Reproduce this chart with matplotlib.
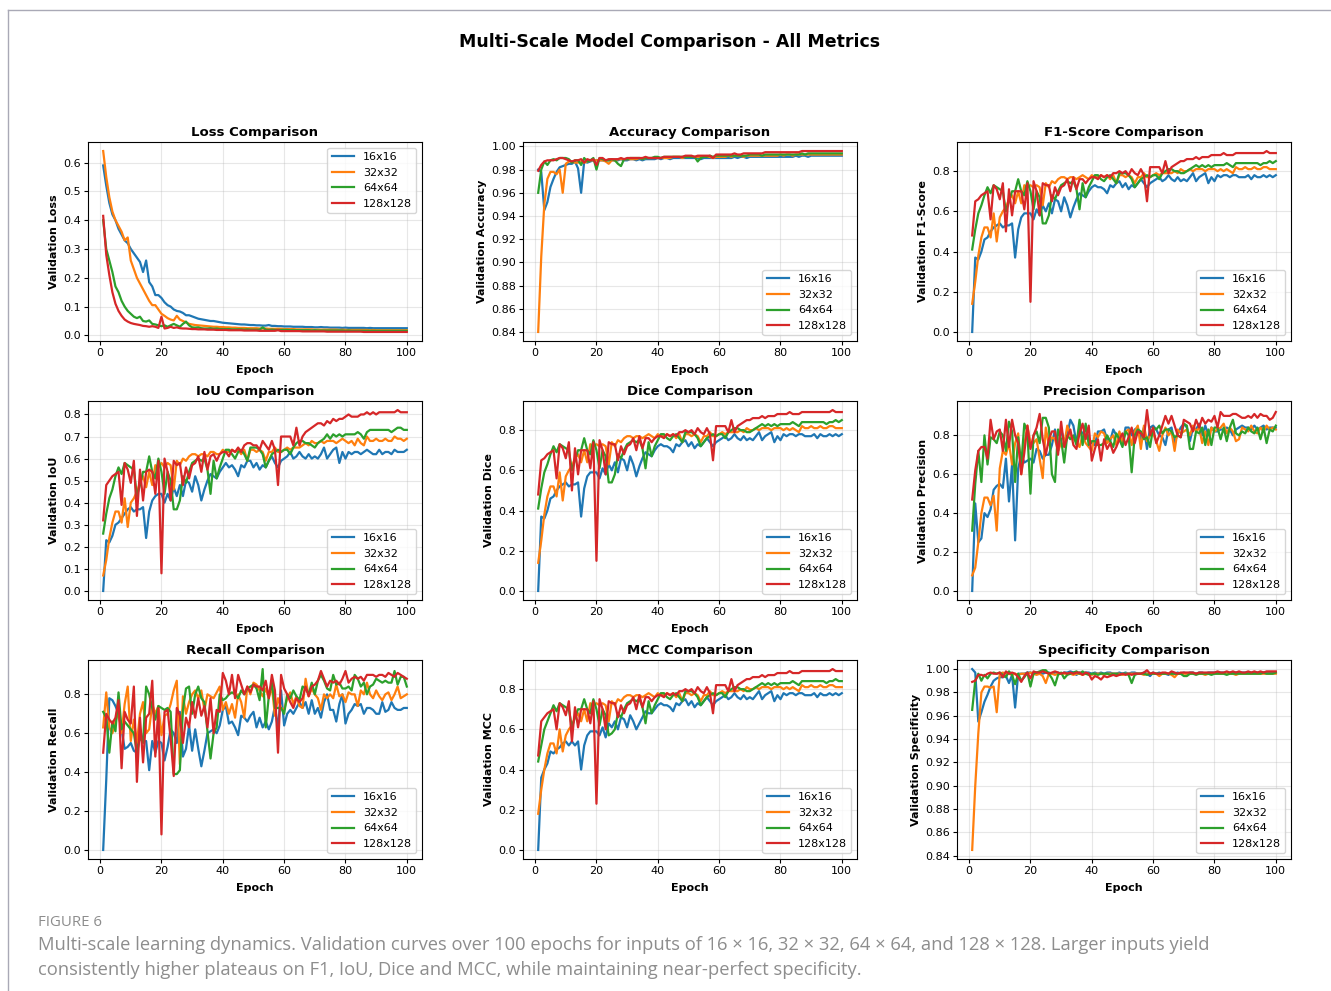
import numpy as np
import matplotlib
matplotlib.use("Agg")
import matplotlib.pyplot as plt
from matplotlib.lines import Line2D
from matplotlib.ticker import MultipleLocator

EPOCHS = list(range(1, 101))
SCALES = ["16x16", "32x32", "64x64", "128x128"]
COLORS = ["#1f77b4", "#ff7f0e", "#2ca02c", "#d62728"]

LOSS_16 = [
    0.590, 0.520, 0.460, 0.420, 0.400, 0.370, 0.350, 0.330, 0.320, 0.300,
    0.285, 0.270, 0.255, 0.220, 0.260, 0.185, 0.170, 0.140, 0.140, 0.130,
    0.115, 0.105, 0.100, 0.090, 0.085, 0.083, 0.078, 0.070, 0.070, 0.066,
    0.062, 0.058, 0.056, 0.054, 0.052, 0.050, 0.050, 0.048, 0.046, 0.044,
    0.043, 0.042, 0.041, 0.040, 0.039, 0.038, 0.038, 0.037, 0.036, 0.036,
    0.035, 0.035, 0.034, 0.034, 0.036, 0.033, 0.033, 0.032, 0.032, 0.031,
    0.031, 0.031, 0.030, 0.030, 0.030, 0.030, 0.029, 0.029, 0.029, 0.028,
    0.028, 0.029, 0.028, 0.028, 0.027, 0.027, 0.027, 0.027, 0.026, 0.027,
    0.026, 0.026, 0.026, 0.026, 0.026, 0.026, 0.025, 0.026, 0.025, 0.025,
    0.025, 0.025, 0.025, 0.025, 0.025, 0.025, 0.025, 0.025, 0.025, 0.025]
LOSS_32 = [
    0.640, 0.550, 0.480, 0.430, 0.400, 0.380, 0.360, 0.330, 0.340, 0.260,
    0.230, 0.200, 0.180, 0.160, 0.140, 0.120, 0.105, 0.105, 0.090, 0.075,
    0.068, 0.060, 0.055, 0.052, 0.068, 0.055, 0.050, 0.045, 0.040, 0.038,
    0.036, 0.035, 0.034, 0.033, 0.032, 0.031, 0.030, 0.030, 0.029, 0.029,
    0.028, 0.028, 0.027, 0.027, 0.026, 0.026, 0.026, 0.025, 0.025, 0.025,
    0.025, 0.024, 0.024, 0.024, 0.023, 0.023, 0.023, 0.023, 0.023, 0.022,
    0.022, 0.022, 0.022, 0.021, 0.021, 0.021, 0.021, 0.021, 0.021, 0.020,
    0.020, 0.020, 0.020, 0.020, 0.020, 0.020, 0.020, 0.019, 0.020, 0.019,
    0.019, 0.019, 0.019, 0.019, 0.019, 0.019, 0.019, 0.018, 0.019, 0.018,
    0.018, 0.018, 0.018, 0.018, 0.018, 0.018, 0.018, 0.018, 0.018, 0.018]
LOSS_64 = [
    0.400, 0.300, 0.260, 0.220, 0.170, 0.150, 0.120, 0.100, 0.085, 0.075,
    0.065, 0.060, 0.065, 0.050, 0.048, 0.052, 0.040, 0.038, 0.035, 0.032,
    0.035, 0.030, 0.035, 0.040, 0.035, 0.030, 0.040, 0.048, 0.035, 0.028,
    0.027, 0.028, 0.025, 0.024, 0.024, 0.025, 0.023, 0.024, 0.022, 0.022,
    0.022, 0.022, 0.021, 0.021, 0.021, 0.021, 0.020, 0.021, 0.020, 0.020,
    0.020, 0.020, 0.028, 0.020, 0.019, 0.020, 0.019, 0.019, 0.019, 0.019,
    0.019, 0.018, 0.018, 0.018, 0.018, 0.018, 0.018, 0.018, 0.017, 0.018,
    0.017, 0.017, 0.017, 0.017, 0.017, 0.017, 0.017, 0.017, 0.017, 0.016,
    0.017, 0.016, 0.016, 0.016, 0.016, 0.016, 0.016, 0.016, 0.016, 0.016,
    0.016, 0.016, 0.016, 0.016, 0.016, 0.016, 0.016, 0.016, 0.016, 0.016]
LOSS_128 = [
    0.415, 0.280, 0.210, 0.150, 0.110, 0.085, 0.068, 0.055, 0.048, 0.043,
    0.040, 0.038, 0.036, 0.033, 0.032, 0.030, 0.032, 0.030, 0.026, 0.065,
    0.024, 0.026, 0.030, 0.026, 0.028, 0.025, 0.024, 0.024, 0.023, 0.022,
    0.022, 0.021, 0.021, 0.021, 0.020, 0.020, 0.020, 0.019, 0.019, 0.019,
    0.019, 0.018, 0.018, 0.018, 0.018, 0.018, 0.017, 0.017, 0.017, 0.017,
    0.017, 0.016, 0.016, 0.016, 0.016, 0.016, 0.016, 0.018, 0.015, 0.015,
    0.015, 0.015, 0.015, 0.015, 0.015, 0.014, 0.014, 0.014, 0.014, 0.014,
    0.014, 0.014, 0.014, 0.013, 0.013, 0.013, 0.013, 0.013, 0.013, 0.013,
    0.013, 0.013, 0.013, 0.013, 0.013, 0.012, 0.012, 0.012, 0.012, 0.012,
    0.012, 0.012, 0.012, 0.012, 0.012, 0.012, 0.012, 0.012, 0.012, 0.012]

ACC_16 = [
    0.980, 0.978, 0.945, 0.952, 0.965, 0.972, 0.978, 0.982, 0.983, 0.984,
    0.985, 0.985, 0.987, 0.981, 0.960, 0.987, 0.986, 0.987, 0.988, 0.988,
    0.988, 0.988, 0.988, 0.988, 0.988, 0.988, 0.988, 0.989, 0.988, 0.988,
    0.989, 0.989, 0.988, 0.989, 0.988, 0.989, 0.989, 0.989, 0.989, 0.990,
    0.989, 0.990, 0.990, 0.989, 0.990, 0.990, 0.990, 0.990, 0.990, 0.990,
    0.990, 0.990, 0.990, 0.989, 0.990, 0.990, 0.990, 0.990, 0.990, 0.990,
    0.990, 0.990, 0.990, 0.990, 0.991, 0.990, 0.991, 0.991, 0.990, 0.991,
    0.991, 0.991, 0.991, 0.991, 0.991, 0.991, 0.991, 0.991, 0.991, 0.991,
    0.991, 0.991, 0.991, 0.991, 0.992, 0.991, 0.992, 0.992, 0.991, 0.992,
    0.992, 0.992, 0.992, 0.992, 0.992, 0.992, 0.992, 0.992, 0.992, 0.992]
ACC_32 = [
    0.840, 0.905, 0.950, 0.972, 0.978, 0.978, 0.976, 0.980, 0.960, 0.985,
    0.987, 0.987, 0.986, 0.986, 0.987, 0.986, 0.987, 0.988, 0.988, 0.988,
    0.988, 0.988, 0.987, 0.985, 0.988, 0.988, 0.989, 0.989, 0.989, 0.989,
    0.989, 0.989, 0.989, 0.990, 0.989, 0.990, 0.990, 0.990, 0.990, 0.990,
    0.990, 0.990, 0.990, 0.990, 0.991, 0.991, 0.991, 0.990, 0.991, 0.991,
    0.991, 0.991, 0.991, 0.991, 0.991, 0.991, 0.991, 0.990, 0.991, 0.991,
    0.991, 0.991, 0.992, 0.991, 0.992, 0.992, 0.992, 0.991, 0.992, 0.992,
    0.992, 0.992, 0.992, 0.992, 0.992, 0.992, 0.992, 0.992, 0.992, 0.993,
    0.992, 0.993, 0.993, 0.992, 0.993, 0.993, 0.993, 0.993, 0.993, 0.993,
    0.993, 0.993, 0.993, 0.993, 0.993, 0.993, 0.993, 0.993, 0.993, 0.993]
ACC_64 = [
    0.960, 0.980, 0.987, 0.984, 0.988, 0.989, 0.988, 0.990, 0.990, 0.990,
    0.989, 0.986, 0.988, 0.988, 0.984, 0.990, 0.987, 0.988, 0.990, 0.980,
    0.990, 0.989, 0.988, 0.988, 0.989, 0.988, 0.985, 0.983, 0.989, 0.989,
    0.990, 0.990, 0.990, 0.990, 0.989, 0.990, 0.990, 0.990, 0.991, 0.991,
    0.990, 0.991, 0.991, 0.991, 0.991, 0.991, 0.991, 0.991, 0.991, 0.991,
    0.991, 0.991, 0.987, 0.990, 0.991, 0.991, 0.992, 0.991, 0.992, 0.992,
    0.992, 0.992, 0.992, 0.992, 0.992, 0.992, 0.992, 0.992, 0.992, 0.993,
    0.993, 0.993, 0.993, 0.992, 0.993, 0.993, 0.993, 0.993, 0.993, 0.993,
    0.993, 0.993, 0.993, 0.993, 0.993, 0.993, 0.994, 0.993, 0.994, 0.994,
    0.994, 0.994, 0.994, 0.994, 0.994, 0.994, 0.994, 0.994, 0.994, 0.994]
ACC_128 = [
    0.979, 0.984, 0.987, 0.988, 0.988, 0.988, 0.989, 0.990, 0.990, 0.989,
    0.988, 0.987, 0.988, 0.988, 0.989, 0.986, 0.989, 0.988, 0.989, 0.984,
    0.990, 0.990, 0.988, 0.989, 0.989, 0.989, 0.989, 0.990, 0.989, 0.990,
    0.990, 0.990, 0.990, 0.990, 0.990, 0.991, 0.990, 0.990, 0.990, 0.990,
    0.990, 0.991, 0.991, 0.991, 0.991, 0.991, 0.991, 0.991, 0.992, 0.992,
    0.992, 0.991, 0.992, 0.992, 0.992, 0.992, 0.992, 0.990, 0.993, 0.993,
    0.993, 0.993, 0.993, 0.993, 0.994, 0.993, 0.993, 0.994, 0.994, 0.994,
    0.994, 0.994, 0.994, 0.994, 0.995, 0.995, 0.995, 0.995, 0.995, 0.995,
    0.995, 0.995, 0.995, 0.995, 0.995, 0.995, 0.996, 0.996, 0.996, 0.996,
    0.996, 0.996, 0.996, 0.996, 0.996, 0.996, 0.996, 0.996, 0.996, 0.996]

F1_16 = [
    0.00, 0.37, 0.36, 0.40, 0.46, 0.47, 0.50, 0.52, 0.53, 0.54,
    0.52, 0.53, 0.53, 0.54, 0.37, 0.51, 0.57, 0.59, 0.59, 0.59,
    0.56, 0.61, 0.58, 0.63, 0.60, 0.64, 0.59, 0.66, 0.65, 0.60,
    0.67, 0.63, 0.57, 0.62, 0.66, 0.69, 0.68, 0.67, 0.70, 0.72,
    0.73, 0.72, 0.72, 0.71, 0.69, 0.73, 0.72, 0.74, 0.75, 0.72,
    0.74, 0.71, 0.73, 0.72, 0.74, 0.76, 0.74, 0.72, 0.74, 0.75,
    0.76, 0.77, 0.75, 0.76, 0.78, 0.76, 0.75, 0.77, 0.75, 0.76,
    0.75, 0.77, 0.79, 0.75, 0.77, 0.78, 0.79, 0.74, 0.77, 0.75,
    0.78, 0.77, 0.78, 0.78, 0.77, 0.78, 0.78, 0.77, 0.77, 0.77,
    0.78, 0.76, 0.78, 0.77, 0.77, 0.78, 0.77, 0.78, 0.77, 0.78]
F1_32 = [
    0.14, 0.25, 0.38, 0.47, 0.52, 0.52, 0.47, 0.59, 0.45, 0.57,
    0.60, 0.62, 0.66, 0.68, 0.64, 0.70, 0.64, 0.73, 0.72, 0.73,
    0.72, 0.73, 0.72, 0.63, 0.74, 0.72, 0.75, 0.74, 0.76, 0.77,
    0.77, 0.76, 0.77, 0.77, 0.76, 0.77, 0.78, 0.77, 0.76, 0.78,
    0.77, 0.77, 0.78, 0.77, 0.78, 0.76, 0.78, 0.74, 0.78, 0.78,
    0.77, 0.78, 0.77, 0.74, 0.77, 0.77, 0.79, 0.77, 0.77, 0.78,
    0.79, 0.78, 0.79, 0.79, 0.79, 0.79, 0.80, 0.79, 0.81, 0.80,
    0.80, 0.81, 0.80, 0.81, 0.81, 0.81, 0.80, 0.81, 0.81, 0.81,
    0.80, 0.81, 0.80, 0.81, 0.80, 0.79, 0.82, 0.81, 0.81, 0.82,
    0.81, 0.81, 0.82, 0.81, 0.81, 0.82, 0.82, 0.81, 0.81, 0.81]
F1_64 = [
    0.41, 0.51, 0.59, 0.63, 0.68, 0.72, 0.69, 0.73, 0.72, 0.71,
    0.70, 0.60, 0.65, 0.70, 0.70, 0.76, 0.70, 0.68, 0.75, 0.70,
    0.61, 0.70, 0.67, 0.54, 0.54, 0.58, 0.68, 0.66, 0.70, 0.73,
    0.74, 0.75, 0.74, 0.75, 0.71, 0.61, 0.74, 0.67, 0.72, 0.75,
    0.78, 0.78, 0.76, 0.75, 0.77, 0.78, 0.76, 0.74, 0.79, 0.79,
    0.79, 0.78, 0.76, 0.72, 0.74, 0.76, 0.77, 0.78, 0.77, 0.78,
    0.78, 0.76, 0.79, 0.80, 0.81, 0.81, 0.80, 0.80, 0.79, 0.79,
    0.80, 0.81, 0.82, 0.83, 0.82, 0.83, 0.82, 0.83, 0.82, 0.83,
    0.83, 0.83, 0.83, 0.84, 0.83, 0.82, 0.84, 0.84, 0.84, 0.84,
    0.84, 0.84, 0.84, 0.84, 0.83, 0.84, 0.84, 0.85, 0.84, 0.85]
F1_128 = [
    0.48, 0.65, 0.66, 0.68, 0.69, 0.70, 0.56, 0.73, 0.71, 0.66,
    0.74, 0.50, 0.71, 0.58, 0.70, 0.70, 0.70, 0.61, 0.74, 0.15,
    0.75, 0.70, 0.58, 0.74, 0.73, 0.73, 0.65, 0.72, 0.68, 0.72,
    0.73, 0.76, 0.70, 0.77, 0.71, 0.76, 0.76, 0.74, 0.76, 0.77,
    0.77, 0.76, 0.78, 0.77, 0.78, 0.77, 0.79, 0.79, 0.80, 0.79,
    0.80, 0.78, 0.81, 0.79, 0.78, 0.81, 0.78, 0.65, 0.82, 0.82,
    0.82, 0.82, 0.79, 0.85, 0.79, 0.82, 0.83, 0.84, 0.85, 0.85,
    0.86, 0.86, 0.86, 0.87, 0.86, 0.87, 0.87, 0.87, 0.88, 0.88,
    0.88, 0.88, 0.89, 0.88, 0.88, 0.88, 0.89, 0.89, 0.89, 0.89,
    0.89, 0.89, 0.89, 0.89, 0.89, 0.89, 0.90, 0.89, 0.89, 0.89]

# dice curves in the figure are the same as the F1 curves
DICE_16 = F1_16
DICE_32 = F1_32
DICE_64 = F1_64
DICE_128 = F1_128

IOU_16 = [
    0.00, 0.23, 0.22, 0.25, 0.30, 0.31, 0.33, 0.35, 0.37, 0.38,
    0.36, 0.37, 0.37, 0.38, 0.24, 0.36, 0.41, 0.43, 0.44, 0.44,
    0.40, 0.44, 0.41, 0.47, 0.43, 0.48, 0.43, 0.50, 0.49, 0.45,
    0.52, 0.48, 0.41, 0.46, 0.50, 0.53, 0.52, 0.51, 0.54, 0.56,
    0.58, 0.56, 0.57, 0.55, 0.52, 0.57, 0.56, 0.59, 0.59, 0.56,
    0.58, 0.55, 0.57, 0.56, 0.59, 0.61, 0.58, 0.56, 0.59, 0.60,
    0.61, 0.63, 0.60, 0.61, 0.63, 0.61, 0.60, 0.62, 0.60, 0.61,
    0.60, 0.62, 0.65, 0.60, 0.62, 0.64, 0.65, 0.58, 0.63, 0.60,
    0.63, 0.62, 0.63, 0.63, 0.62, 0.63, 0.64, 0.63, 0.62, 0.62,
    0.64, 0.62, 0.63, 0.63, 0.62, 0.64, 0.63, 0.63, 0.63, 0.64]
IOU_32 = [
    0.07, 0.14, 0.24, 0.31, 0.36, 0.36, 0.31, 0.42, 0.29, 0.40,
    0.42, 0.45, 0.49, 0.52, 0.47, 0.54, 0.48, 0.57, 0.56, 0.58,
    0.56, 0.58, 0.57, 0.46, 0.59, 0.57, 0.60, 0.59, 0.61, 0.62,
    0.62, 0.61, 0.62, 0.62, 0.61, 0.63, 0.63, 0.62, 0.62, 0.64,
    0.63, 0.63, 0.64, 0.63, 0.64, 0.62, 0.64, 0.59, 0.64, 0.64,
    0.63, 0.64, 0.63, 0.59, 0.63, 0.63, 0.65, 0.63, 0.63, 0.64,
    0.65, 0.64, 0.65, 0.65, 0.65, 0.66, 0.67, 0.66, 0.68, 0.67,
    0.67, 0.68, 0.67, 0.68, 0.68, 0.68, 0.67, 0.68, 0.69, 0.68,
    0.67, 0.68, 0.66, 0.69, 0.67, 0.66, 0.70, 0.68, 0.68, 0.69,
    0.68, 0.68, 0.69, 0.68, 0.68, 0.70, 0.69, 0.69, 0.68, 0.69]
IOU_64 = [
    0.26, 0.35, 0.42, 0.46, 0.52, 0.56, 0.53, 0.58, 0.57, 0.56,
    0.55, 0.43, 0.48, 0.54, 0.54, 0.61, 0.54, 0.51, 0.60, 0.54,
    0.44, 0.54, 0.50, 0.37, 0.37, 0.41, 0.52, 0.49, 0.54, 0.58,
    0.59, 0.60, 0.59, 0.60, 0.55, 0.44, 0.59, 0.51, 0.56, 0.60,
    0.64, 0.64, 0.62, 0.60, 0.63, 0.64, 0.62, 0.59, 0.65, 0.65,
    0.65, 0.64, 0.62, 0.56, 0.59, 0.62, 0.63, 0.64, 0.63, 0.64,
    0.64, 0.62, 0.65, 0.67, 0.68, 0.68, 0.67, 0.67, 0.66, 0.65,
    0.67, 0.68, 0.69, 0.71, 0.69, 0.71, 0.70, 0.71, 0.70, 0.71,
    0.71, 0.71, 0.71, 0.72, 0.71, 0.69, 0.72, 0.73, 0.73, 0.73,
    0.73, 0.73, 0.73, 0.73, 0.72, 0.73, 0.74, 0.74, 0.73, 0.73]
IOU_128 = [
    0.32, 0.48, 0.50, 0.52, 0.53, 0.54, 0.39, 0.58, 0.55, 0.49,
    0.59, 0.34, 0.55, 0.41, 0.54, 0.55, 0.54, 0.44, 0.59, 0.08,
    0.60, 0.54, 0.41, 0.59, 0.57, 0.58, 0.48, 0.56, 0.51, 0.57,
    0.58, 0.61, 0.54, 0.63, 0.55, 0.61, 0.62, 0.59, 0.62, 0.63,
    0.63, 0.61, 0.64, 0.63, 0.65, 0.63, 0.66, 0.67, 0.67, 0.66,
    0.66, 0.64, 0.68, 0.66, 0.64, 0.68, 0.64, 0.48, 0.70, 0.70,
    0.70, 0.70, 0.66, 0.74, 0.66, 0.70, 0.72, 0.73, 0.74, 0.75,
    0.76, 0.76, 0.75, 0.77, 0.76, 0.78, 0.77, 0.78, 0.78, 0.79,
    0.80, 0.79, 0.79, 0.79, 0.80, 0.80, 0.81, 0.80, 0.81, 0.80,
    0.81, 0.81, 0.81, 0.81, 0.81, 0.81, 0.82, 0.81, 0.81, 0.81]

PREC_16 = [
    0.00, 0.45, 0.25, 0.27, 0.40, 0.38, 0.42, 0.52, 0.54, 0.55,
    0.53, 0.68, 0.46, 0.65, 0.26, 0.63, 0.70, 0.66, 0.67, 0.68,
    0.66, 0.73, 0.72, 0.68, 0.70, 0.70, 0.75, 0.83, 0.72, 0.83,
    0.77, 0.80, 0.88, 0.85, 0.76, 0.84, 0.80, 0.85, 0.78, 0.76,
    0.75, 0.82, 0.82, 0.83, 0.78, 0.77, 0.83, 0.80, 0.78, 0.75,
    0.84, 0.84, 0.80, 0.83, 0.84, 0.78, 0.84, 0.73, 0.84, 0.85,
    0.83, 0.80, 0.79, 0.75, 0.83, 0.84, 0.76, 0.81, 0.84, 0.86,
    0.84, 0.77, 0.84, 0.83, 0.86, 0.80, 0.85, 0.80, 0.84, 0.82,
    0.82, 0.83, 0.83, 0.84, 0.83, 0.80, 0.83, 0.84, 0.85, 0.84,
    0.84, 0.83, 0.85, 0.83, 0.84, 0.85, 0.83, 0.84, 0.84, 0.84]
PREC_32 = [
    0.08, 0.12, 0.25, 0.40, 0.48, 0.48, 0.44, 0.49, 0.31, 0.63,
    0.72, 0.70, 0.76, 0.65, 0.76, 0.81, 0.60, 0.75, 0.85, 0.76,
    0.76, 0.78, 0.68, 0.58, 0.84, 0.75, 0.79, 0.78, 0.72, 0.76,
    0.75, 0.85, 0.80, 0.78, 0.77, 0.74, 0.80, 0.76, 0.74, 0.72,
    0.81, 0.79, 0.82, 0.81, 0.76, 0.78, 0.80, 0.75, 0.82, 0.76,
    0.82, 0.83, 0.75, 0.82, 0.85, 0.73, 0.85, 0.77, 0.80, 0.81,
    0.77, 0.72, 0.80, 0.84, 0.80, 0.82, 0.72, 0.83, 0.81, 0.82,
    0.83, 0.80, 0.85, 0.82, 0.84, 0.76, 0.82, 0.75, 0.84, 0.82,
    0.83, 0.84, 0.86, 0.81, 0.84, 0.82, 0.77, 0.78, 0.84, 0.83,
    0.82, 0.85, 0.82, 0.81, 0.84, 0.82, 0.85, 0.83, 0.84, 0.83]
PREC_64 = [
    0.31, 0.55, 0.72, 0.56, 0.80, 0.65, 0.79, 0.78, 0.76, 0.82,
    0.80, 0.72, 0.87, 0.82, 0.56, 0.79, 0.65, 0.86, 0.82, 0.50,
    0.80, 0.82, 0.76, 0.89, 0.89, 0.84, 0.60, 0.56, 0.83, 0.78,
    0.66, 0.80, 0.78, 0.80, 0.75, 0.88, 0.75, 0.86, 0.75, 0.77,
    0.77, 0.75, 0.75, 0.76, 0.80, 0.77, 0.74, 0.81, 0.78, 0.74,
    0.82, 0.80, 0.61, 0.80, 0.83, 0.82, 0.78, 0.79, 0.74, 0.84,
    0.83, 0.85, 0.81, 0.83, 0.83, 0.82, 0.79, 0.80, 0.79, 0.86,
    0.85, 0.73, 0.73, 0.82, 0.81, 0.84, 0.75, 0.83, 0.75, 0.84,
    0.84, 0.78, 0.84, 0.77, 0.84, 0.88, 0.81, 0.80, 0.82, 0.81,
    0.84, 0.82, 0.81, 0.84, 0.78, 0.84, 0.76, 0.83, 0.82, 0.85]
PREC_128 = [
    0.47, 0.62, 0.72, 0.74, 0.74, 0.68, 0.88, 0.78, 0.82, 0.83,
    0.72, 0.88, 0.74, 0.88, 0.80, 0.76, 0.60, 0.71, 0.85, 0.73,
    0.80, 0.84, 0.91, 0.78, 0.70, 0.78, 0.82, 0.82, 0.70, 0.87,
    0.74, 0.79, 0.83, 0.75, 0.73, 0.81, 0.86, 0.78, 0.85, 0.67,
    0.73, 0.78, 0.67, 0.78, 0.73, 0.76, 0.71, 0.74, 0.78, 0.81,
    0.75, 0.79, 0.84, 0.76, 0.82, 0.81, 0.79, 0.93, 0.80, 0.84,
    0.76, 0.80, 0.85, 0.90, 0.86, 0.90, 0.85, 0.80, 0.79, 0.88,
    0.87, 0.86, 0.82, 0.88, 0.84, 0.89, 0.86, 0.88, 0.87, 0.90,
    0.84, 0.92, 0.90, 0.90, 0.90, 0.91, 0.91, 0.90, 0.89, 0.89,
    0.90, 0.89, 0.91, 0.89, 0.91, 0.90, 0.90, 0.88, 0.89, 0.92]

REC_16 = [
    0.00, 0.36, 0.78, 0.77, 0.74, 0.70, 0.62, 0.52, 0.53, 0.55,
    0.51, 0.50, 0.62, 0.56, 0.56, 0.41, 0.56, 0.50, 0.56, 0.55,
    0.46, 0.53, 0.62, 0.60, 0.55, 0.71, 0.48, 0.52, 0.64, 0.51,
    0.62, 0.52, 0.43, 0.51, 0.60, 0.61, 0.62, 0.60, 0.64, 0.72,
    0.74, 0.65, 0.66, 0.63, 0.59, 0.69, 0.68, 0.66, 0.69, 0.71,
    0.63, 0.68, 0.63, 0.66, 0.62, 0.66, 0.74, 0.62, 0.82, 0.64,
    0.70, 0.72, 0.70, 0.73, 0.76, 0.73, 0.76, 0.70, 0.77, 0.70,
    0.73, 0.68, 0.76, 0.80, 0.72, 0.72, 0.66, 0.75, 0.80, 0.65,
    0.70, 0.72, 0.75, 0.74, 0.75, 0.70, 0.73, 0.73, 0.72, 0.70,
    0.70, 0.76, 0.71, 0.72, 0.76, 0.73, 0.72, 0.72, 0.73, 0.73]
REC_32 = [
    0.63, 0.81, 0.63, 0.60, 0.66, 0.71, 0.60, 0.75, 0.84, 0.56,
    0.67, 0.55, 0.70, 0.76, 0.60, 0.62, 0.75, 0.70, 0.74, 0.59,
    0.69, 0.70, 0.75, 0.82, 0.87, 0.44, 0.79, 0.70, 0.76, 0.80,
    0.82, 0.78, 0.82, 0.72, 0.80, 0.79, 0.78, 0.81, 0.84, 0.72,
    0.76, 0.70, 0.75, 0.68, 0.80, 0.76, 0.68, 0.84, 0.80, 0.86,
    0.85, 0.82, 0.79, 0.83, 0.78, 0.84, 0.69, 0.78, 0.73, 0.72,
    0.78, 0.81, 0.75, 0.79, 0.74, 0.73, 0.88, 0.79, 0.83, 0.80,
    0.78, 0.72, 0.80, 0.78, 0.80, 0.78, 0.85, 0.79, 0.80, 0.76,
    0.81, 0.80, 0.80, 0.74, 0.82, 0.80, 0.86, 0.80, 0.78, 0.82,
    0.79, 0.77, 0.80, 0.81, 0.77, 0.80, 0.84, 0.78, 0.79, 0.80]
REC_64 = [
    0.71, 0.68, 0.50, 0.66, 0.61, 0.81, 0.62, 0.66, 0.64, 0.62,
    0.60, 0.50, 0.58, 0.55, 0.84, 0.80, 0.73, 0.67, 0.74, 0.73,
    0.72, 0.73, 0.71, 0.39, 0.39, 0.41, 0.72, 0.83, 0.84, 0.70,
    0.80, 0.84, 0.78, 0.76, 0.61, 0.47, 0.60, 0.63, 0.80, 0.77,
    0.78, 0.80, 0.81, 0.80, 0.78, 0.82, 0.80, 0.83, 0.84, 0.85,
    0.83, 0.77, 0.93, 0.63, 0.79, 0.86, 0.73, 0.73, 0.73, 0.70,
    0.80, 0.78, 0.82, 0.79, 0.77, 0.84, 0.83, 0.80, 0.86, 0.80,
    0.87, 0.90, 0.87, 0.83, 0.82, 0.90, 0.85, 0.86, 0.83, 0.83,
    0.84, 0.82, 0.90, 0.88, 0.84, 0.86, 0.80, 0.84, 0.85, 0.88,
    0.87, 0.86, 0.87, 0.86, 0.86, 0.92, 0.85, 0.89, 0.89, 0.84]
REC_128 = [
    0.50, 0.70, 0.67, 0.65, 0.68, 0.77, 0.42, 0.71, 0.67, 0.65,
    0.84, 0.35, 0.68, 0.45, 0.68, 0.70, 0.87, 0.48, 0.73, 0.08,
    0.71, 0.72, 0.57, 0.38, 0.73, 0.69, 0.55, 0.68, 0.63, 0.76,
    0.68, 0.78, 0.69, 0.74, 0.63, 0.78, 0.60, 0.72, 0.71, 0.91,
    0.87, 0.80, 0.90, 0.78, 0.90, 0.85, 0.80, 0.84, 0.81, 0.85,
    0.84, 0.84, 0.82, 0.87, 0.78, 0.90, 0.82, 0.50, 0.90, 0.83,
    0.80, 0.76, 0.73, 0.78, 0.76, 0.78, 0.84, 0.79, 0.84, 0.85,
    0.87, 0.92, 0.88, 0.84, 0.87, 0.86, 0.87, 0.85, 0.88, 0.92,
    0.86, 0.88, 0.89, 0.88, 0.89, 0.87, 0.90, 0.90, 0.90, 0.89,
    0.90, 0.90, 0.89, 0.91, 0.90, 0.89, 0.91, 0.90, 0.89, 0.88]

MCC_16 = [
    0.00, 0.36, 0.40, 0.43, 0.49, 0.48, 0.50, 0.51, 0.53, 0.54,
    0.52, 0.54, 0.52, 0.54, 0.40, 0.52, 0.57, 0.59, 0.59, 0.59,
    0.57, 0.61, 0.56, 0.63, 0.61, 0.64, 0.60, 0.66, 0.65, 0.61,
    0.67, 0.64, 0.60, 0.63, 0.66, 0.69, 0.68, 0.68, 0.70, 0.72,
    0.73, 0.72, 0.72, 0.71, 0.69, 0.73, 0.72, 0.74, 0.75, 0.72,
    0.74, 0.71, 0.73, 0.72, 0.74, 0.76, 0.74, 0.72, 0.74, 0.75,
    0.76, 0.77, 0.75, 0.76, 0.78, 0.76, 0.75, 0.77, 0.75, 0.76,
    0.75, 0.77, 0.79, 0.75, 0.77, 0.78, 0.79, 0.74, 0.77, 0.75,
    0.78, 0.77, 0.78, 0.78, 0.77, 0.78, 0.78, 0.77, 0.77, 0.77,
    0.78, 0.76, 0.78, 0.77, 0.77, 0.78, 0.77, 0.78, 0.77, 0.78]
MCC_32 = [
    0.18, 0.30, 0.40, 0.48, 0.53, 0.53, 0.48, 0.60, 0.49, 0.57,
    0.60, 0.62, 0.66, 0.68, 0.64, 0.70, 0.64, 0.73, 0.72, 0.73,
    0.72, 0.73, 0.72, 0.64, 0.74, 0.72, 0.75, 0.74, 0.76, 0.77,
    0.77, 0.76, 0.77, 0.77, 0.76, 0.77, 0.78, 0.77, 0.76, 0.78,
    0.77, 0.77, 0.78, 0.77, 0.78, 0.76, 0.78, 0.74, 0.78, 0.78,
    0.77, 0.78, 0.77, 0.74, 0.77, 0.77, 0.79, 0.77, 0.77, 0.78,
    0.79, 0.78, 0.79, 0.79, 0.79, 0.79, 0.80, 0.79, 0.81, 0.80,
    0.80, 0.81, 0.80, 0.81, 0.81, 0.81, 0.80, 0.81, 0.81, 0.81,
    0.80, 0.81, 0.80, 0.81, 0.80, 0.79, 0.82, 0.81, 0.81, 0.82,
    0.81, 0.81, 0.82, 0.81, 0.81, 0.82, 0.82, 0.81, 0.81, 0.81]
MCC_64 = [
    0.44, 0.52, 0.60, 0.64, 0.68, 0.72, 0.69, 0.73, 0.72, 0.71,
    0.70, 0.61, 0.66, 0.70, 0.70, 0.75, 0.70, 0.68, 0.75, 0.70,
    0.62, 0.70, 0.67, 0.57, 0.58, 0.60, 0.68, 0.66, 0.70, 0.73,
    0.74, 0.75, 0.74, 0.75, 0.71, 0.63, 0.74, 0.68, 0.72, 0.75,
    0.78, 0.78, 0.76, 0.75, 0.77, 0.78, 0.76, 0.74, 0.79, 0.79,
    0.79, 0.78, 0.76, 0.72, 0.74, 0.76, 0.77, 0.78, 0.77, 0.78,
    0.78, 0.76, 0.79, 0.80, 0.81, 0.81, 0.80, 0.80, 0.79, 0.79,
    0.80, 0.81, 0.82, 0.83, 0.82, 0.83, 0.82, 0.83, 0.82, 0.83,
    0.83, 0.83, 0.83, 0.84, 0.83, 0.82, 0.84, 0.84, 0.84, 0.84,
    0.84, 0.84, 0.84, 0.84, 0.83, 0.84, 0.84, 0.85, 0.84, 0.84]
MCC_128 = [
    0.47, 0.64, 0.66, 0.68, 0.69, 0.70, 0.60, 0.73, 0.71, 0.67,
    0.74, 0.54, 0.71, 0.61, 0.70, 0.70, 0.70, 0.63, 0.74, 0.23,
    0.75, 0.70, 0.60, 0.74, 0.73, 0.73, 0.66, 0.72, 0.68, 0.72,
    0.73, 0.76, 0.70, 0.77, 0.71, 0.76, 0.76, 0.74, 0.76, 0.77,
    0.77, 0.76, 0.78, 0.77, 0.78, 0.77, 0.79, 0.79, 0.80, 0.79,
    0.80, 0.78, 0.81, 0.79, 0.78, 0.81, 0.78, 0.68, 0.82, 0.82,
    0.82, 0.82, 0.79, 0.85, 0.79, 0.82, 0.83, 0.84, 0.85, 0.85,
    0.86, 0.86, 0.86, 0.87, 0.86, 0.87, 0.87, 0.87, 0.88, 0.88,
    0.88, 0.88, 0.89, 0.88, 0.88, 0.88, 0.89, 0.89, 0.89, 0.89,
    0.89, 0.89, 0.89, 0.89, 0.89, 0.89, 0.90, 0.89, 0.89, 0.89]

SPEC_16 = [
    1.000, 0.997, 0.955, 0.963, 0.972, 0.978, 0.985, 0.990, 0.992, 0.993,
    0.993, 0.994, 0.988, 0.995, 0.967, 0.996, 0.996, 0.996, 0.997, 0.997,
    0.996, 0.997, 0.997, 0.996, 0.997, 0.997, 0.996, 0.997, 0.997, 0.996,
    0.997, 0.997, 0.998, 0.997, 0.995, 0.997, 0.996, 0.997, 0.997, 0.996,
    0.997, 0.996, 0.997, 0.996, 0.997, 0.997, 0.996, 0.996, 0.997, 0.996,
    0.997, 0.996, 0.997, 0.997, 0.996, 0.996, 0.997, 0.996, 0.994, 0.997,
    0.996, 0.997, 0.996, 0.996, 0.995, 0.997, 0.996, 0.997, 0.996, 0.997,
    0.996, 0.997, 0.997, 0.996, 0.997, 0.997, 0.996, 0.997, 0.997, 0.997,
    0.997, 0.997, 0.997, 0.996, 0.997, 0.997, 0.997, 0.997, 0.997, 0.997,
    0.997, 0.997, 0.997, 0.997, 0.997, 0.997, 0.997, 0.997, 0.997, 0.997]
SPEC_32 = [
    0.845, 0.900, 0.945, 0.980, 0.985, 0.985, 0.984, 0.985, 0.963, 0.996,
    0.997, 0.996, 0.996, 0.995, 0.996, 0.995, 0.996, 0.996, 0.996, 0.997,
    0.996, 0.995, 0.996, 0.994, 0.988, 0.996, 0.996, 0.995, 0.996, 0.996,
    0.996, 0.996, 0.996, 0.995, 0.996, 0.996, 0.995, 0.996, 0.996, 0.995,
    0.996, 0.996, 0.996, 0.995, 0.996, 0.996, 0.996, 0.996, 0.996, 0.995,
    0.996, 0.996, 0.996, 0.996, 0.996, 0.996, 0.995, 0.996, 0.996, 0.996,
    0.996, 0.994, 0.996, 0.996, 0.996, 0.995, 0.993, 0.996, 0.996, 0.996,
    0.996, 0.996, 0.996, 0.996, 0.996, 0.996, 0.995, 0.996, 0.996, 0.996,
    0.996, 0.996, 0.996, 0.996, 0.996, 0.996, 0.995, 0.996, 0.996, 0.996,
    0.996, 0.996, 0.996, 0.996, 0.996, 0.996, 0.996, 0.996, 0.996, 0.996]
SPEC_64 = [
    0.965, 0.990, 0.996, 0.990, 0.995, 0.992, 0.996, 0.997, 0.996, 0.997,
    0.995, 0.993, 0.998, 0.995, 0.987, 0.996, 0.990, 0.993, 0.997, 0.985,
    0.996, 0.997, 0.998, 0.999, 0.999, 0.996, 0.992, 0.986, 0.995, 0.997,
    0.992, 0.995, 0.996, 0.997, 0.998, 0.996, 0.998, 0.996, 0.995, 0.996,
    0.996, 0.995, 0.996, 0.996, 0.996, 0.995, 0.996, 0.996, 0.995, 0.996,
    0.996, 0.995, 0.988, 0.995, 0.996, 0.996, 0.996, 0.995, 0.996, 0.996,
    0.996, 0.996, 0.996, 0.996, 0.996, 0.996, 0.996, 0.996, 0.996, 0.994,
    0.994, 0.996, 0.996, 0.995, 0.996, 0.996, 0.996, 0.996, 0.995, 0.996,
    0.996, 0.996, 0.996, 0.995, 0.996, 0.996, 0.996, 0.996, 0.996, 0.996,
    0.996, 0.996, 0.996, 0.996, 0.996, 0.997, 0.996, 0.996, 0.996, 0.997]
SPEC_128 = [
    0.989, 0.990, 0.995, 0.995, 0.994, 0.996, 0.997, 0.996, 0.996, 0.997,
    0.993, 0.998, 0.996, 0.997, 0.996, 0.993, 0.989, 0.994, 0.997, 0.992,
    0.998, 0.997, 0.997, 0.998, 0.997, 0.996, 0.997, 0.998, 0.997, 0.996,
    0.997, 0.996, 0.997, 0.996, 0.997, 0.997, 0.995, 0.997, 0.996, 0.991,
    0.994, 0.993, 0.991, 0.994, 0.993, 0.994, 0.995, 0.994, 0.995, 0.996,
    0.995, 0.996, 0.995, 0.996, 0.996, 0.996, 0.997, 0.999, 0.996, 0.997,
    0.996, 0.996, 0.997, 0.997, 0.996, 0.998, 0.997, 0.996, 0.997, 0.997,
    0.997, 0.997, 0.997, 0.996, 0.997, 0.997, 0.997, 0.997, 0.997, 0.997,
    0.998, 0.997, 0.997, 0.998, 0.997, 0.998, 0.997, 0.998, 0.997, 0.997,
    0.998, 0.997, 0.998, 0.997, 0.998, 0.997, 0.998, 0.998, 0.998, 0.998]

# (title, y label, series, legend location, y tick step)
PANELS = [
    ("Loss Comparison", "Validation Loss", [LOSS_16, LOSS_32, LOSS_64, LOSS_128], "upper right", 0.1),
    ("Accuracy Comparison", "Validation Accuracy", [ACC_16, ACC_32, ACC_64, ACC_128], "lower right", 0.02),
    ("F1-Score Comparison", "Validation F1-Score", [F1_16, F1_32, F1_64, F1_128], "lower right", 0.2),
    ("IoU Comparison", "Validation IoU", [IOU_16, IOU_32, IOU_64, IOU_128], "lower right", 0.1),
    ("Dice Comparison", "Validation Dice", [DICE_16, DICE_32, DICE_64, DICE_128], "lower right", 0.2),
    ("Precision Comparison", "Validation Precision", [PREC_16, PREC_32, PREC_64, PREC_128], "lower right", 0.2),
    ("Recall Comparison", "Validation Recall", [REC_16, REC_32, REC_64, REC_128], "lower right", 0.2),
    ("MCC Comparison", "Validation MCC", [MCC_16, MCC_32, MCC_64, MCC_128], "lower right", 0.2),
    ("Specificity Comparison", "Validation Specificity", [SPEC_16, SPEC_32, SPEC_64, SPEC_128], "lower right", 0.02),
]

W, H = 1331, 991
fig = plt.figure(figsize=(W / 100, H / 100), dpi=100)
fig.patch.set_facecolor("white")

col_left = [88, 523, 957]
row_top = [142, 401, 660]
ax_w, ax_h = 334, 199

for i, (title, ylabel, series, loc, step) in enumerate(PANELS):
    r, c = divmod(i, 3)
    ax = fig.add_axes([col_left[c] / W, 1 - (row_top[r] + ax_h) / H, ax_w / W, ax_h / H])
    for vals, name, col in zip(series, SCALES, COLORS):
        ax.plot(EPOCHS, vals, color=col, lw=1.6, label=name)
    ax.set_title(title, fontsize=9.5, fontweight="bold", pad=4)
    ax.set_xlabel("Epoch", fontsize=8, fontweight="bold", labelpad=5)
    ax.set_ylabel(ylabel, fontsize=8, fontweight="bold", labelpad=3)
    ax.xaxis.set_major_locator(MultipleLocator(20))
    ax.yaxis.set_major_locator(MultipleLocator(step))
    if step < 0.05:
        ax.yaxis.set_major_formatter(plt.FormatStrFormatter("%.2f"))
    else:
        ax.yaxis.set_major_formatter(plt.FormatStrFormatter("%.1f"))
    ax.tick_params(labelsize=8, length=3, pad=2)
    ax.grid(True, alpha=0.3)
    ax.legend(loc=loc, fontsize=8)

fig.text(670 / W, 1 - 42 / H, "Multi-Scale Model Comparison - All Metrics",
         ha="center", va="center", fontsize=12.5, fontweight="bold")

# page frame of the journal figure
fig.add_artist(Line2D([8 / W, 1], [1 - 10 / H, 1 - 10 / H], color="#a9a9b6", lw=1))
fig.add_artist(Line2D([8 / W, 8 / W], [0, 1 - 10 / H], color="#a9a9b6", lw=1))

cap_color = "#8d8d8d"
fig.text(38 / W, 1 - 922 / H, "FIGURE 6", ha="left", va="center",
         fontsize=10.8, color=cap_color, family="Open Sans")
fig.text(38 / W, 1 - 945 / H,
         "Multi-scale learning dynamics. Validation curves over 100 epochs for inputs of 16 \u00d7 16, 32 \u00d7 32, 64 \u00d7 64, and 128 \u00d7 128. Larger inputs yield",
         ha="left", va="center", fontsize=13.2, color=cap_color, family="Open Sans")
fig.text(38 / W, 1 - 970 / H,
         "consistently higher plateaus on F1, IoU, Dice and MCC, while maintaining near-perfect specificity.",
         ha="left", va="center", fontsize=13.2, color=cap_color, family="Open Sans")

fig.savefig("out.png", dpi=100, facecolor="white")
